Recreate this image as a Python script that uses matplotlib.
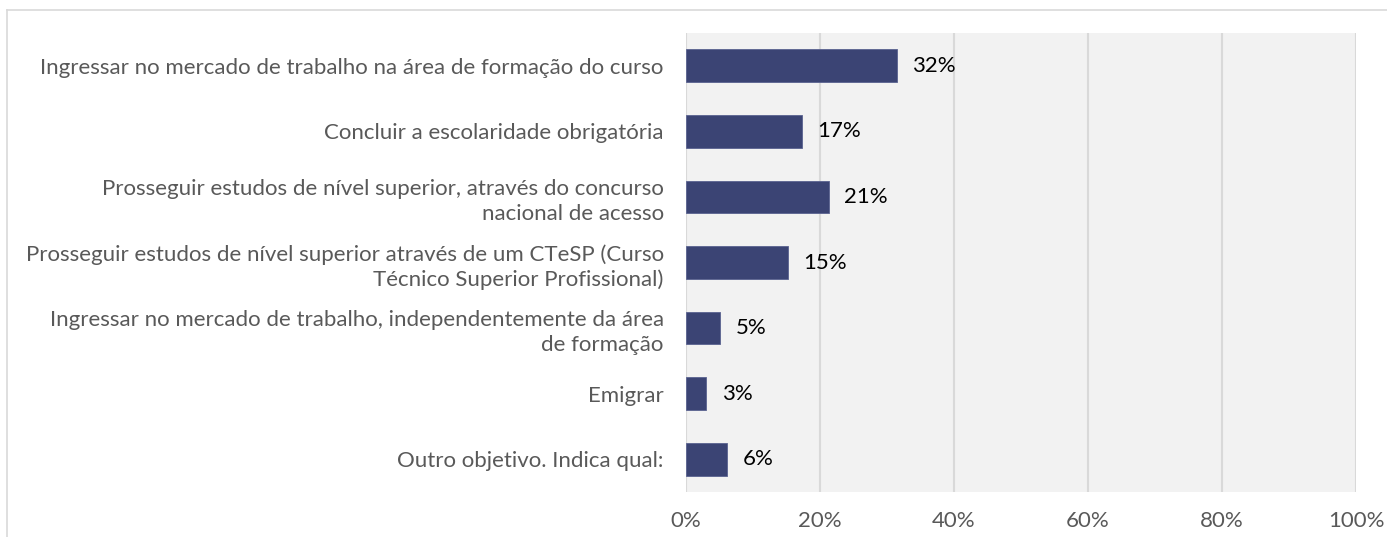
import matplotlib.pyplot as plt
from matplotlib.lines import Line2D

# Objetivos após o curso (percentagem de respostas)
categorias = [
    "Ingressar no mercado de trabalho na área de formação do curso",
    "Concluir a escolaridade obrigatória",
    "Prosseguir estudos de nível superior, através do concurso\nnacional de acesso",
    "Prosseguir estudos de nível superior através de um CTeSP (Curso\nTécnico Superior Profissional)",
    "Ingressar no mercado de trabalho, independentemente da área\nde formação",
    "Emigrar",
    "Outro objetivo. Indica qual:",
]
valores = [0.315, 0.173, 0.213, 0.152, 0.051, 0.030, 0.061]
rotulos = ["32%", "17%", "21%", "15%", "5%", "3%", "6%"]
ticks = [0, 0.2, 0.4, 0.6, 0.8, 1.0]
tick_labels = ["0%", "20%", "40%", "60%", "80%", "100%"]

plt.rcParams['font.family'] = ['Lato', 'DejaVu Sans']

fig = plt.figure(figsize=(13.87, 5.37), dpi=100)
ax = fig.add_axes([0.4946, 0.0838, 0.4831, 0.8547])
ax.set_facecolor("#F2F2F2")

y = list(range(len(categorias)))
ax.barh(y, valores, height=0.5, color="#3B4474", edgecolor="#5A6290", linewidth=0.6, zorder=3)
for yi, v, r in zip(y, valores, rotulos):
    ax.text(v + 0.023, yi, r, va="center", ha="left", fontsize=16, color="#000000")

ax.set_ylim(len(categorias) - 0.5, -0.5)
ax.set_xlim(0, 1)
ax.set_yticks(y)
ax.set_yticklabels(categorias, fontsize=16, color="#595959", linespacing=1.3)
ax.set_xticks(ticks)
ax.set_xticklabels(tick_labels, fontsize=16, color="#595959")
ax.tick_params(axis="y", length=0, pad=16)
ax.tick_params(axis="x", length=0, pad=14)
ax.grid(axis="x", color="#D9D9D9", linewidth=1.5, zorder=0)
for s in ax.spines.values():
    s.set_visible(False)

# moldura do gráfico (parcialmente cortada)
fig.add_artist(Line2D([7 / 1387, 1], [1 - 10 / 537, 1 - 10 / 537], color="#D9D9D9", linewidth=1.2))
fig.add_artist(Line2D([7 / 1387, 7 / 1387], [0, 1 - 10 / 537], color="#D9D9D9", linewidth=1.2))

fig.savefig("out.png", dpi=100)
